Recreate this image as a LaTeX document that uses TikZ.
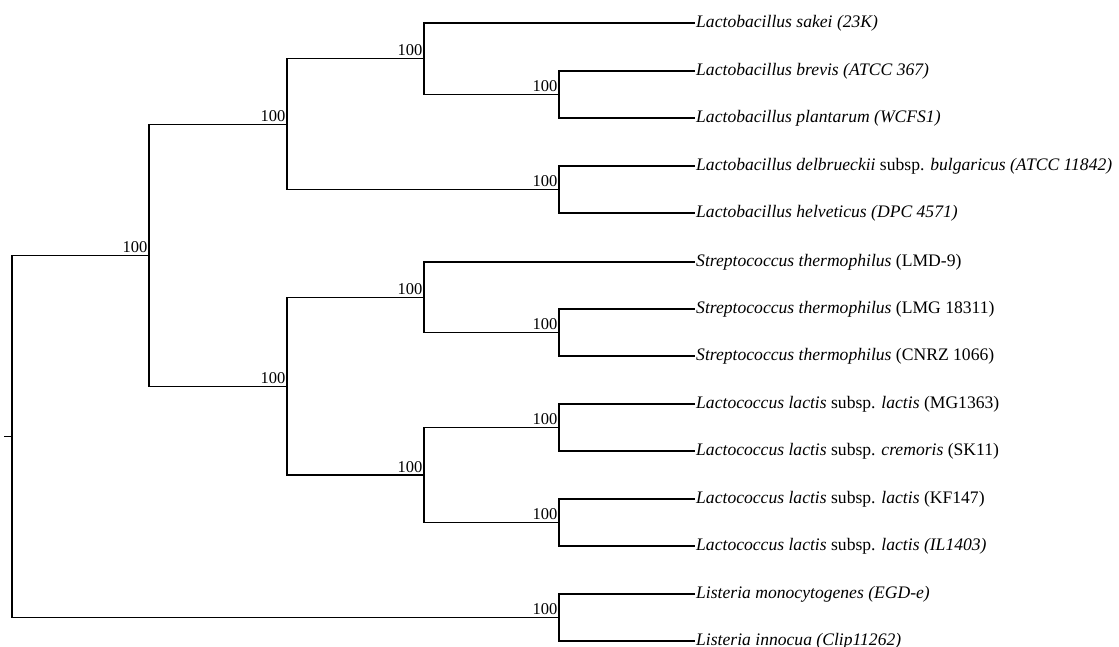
\documentclass[tikz,border=0pt]{standalone}
\usepackage{fontspec}
\setmainfont{Liberation Serif}
\begin{document}
\begin{tikzpicture}[x=1pt,y=-1pt,
  branch/.style={draw=black,line width=1.2pt},
  leaf/.style={anchor=west,inner sep=1pt,font=\fontsize{17.6}{19}\selectfont},
  boot/.style={anchor=south east,inner xsep=1.5pt,inner ysep=2.5pt,font=\fontsize{16.5}{18}\selectfont}]
\useasboundingbox (0,0) rectangle (1119,647);
% leaves
\node[leaf] (L1)  at (695,23)  {\textit{Lactobacillus sakei (23K)}};
\node[leaf] (L2)  at (695,71)  {\textit{Lactobacillus brevis (ATCC 367)}};
\node[leaf] (L3)  at (695,118) {\textit{Lactobacillus plantarum (WCFS1)}};
\node[leaf] (L4)  at (695,166) {\textit{Lactobacillus delbrueckii} subsp. \textit{bulgaricus (ATCC 11842)}};
\node[leaf] (L5)  at (695,213) {\textit{Lactobacillus helveticus (DPC 4571)}};
\node[leaf] (L6)  at (695,262) {\textit{Streptococcus thermophilus} (LMD-9)};
\node[leaf] (L7)  at (695,309) {\textit{Streptococcus thermophilus} (LMG 18311)};
\node[leaf] (L8)  at (695,356) {\textit{Streptococcus thermophilus} (CNRZ 1066)};
\node[leaf] (L9)  at (695,404) {\textit{Lactococcus lactis} subsp. \textit{lactis} (MG1363)};
\node[leaf] (L10) at (695,451) {\textit{Lactococcus lactis} subsp. \textit{cremoris} (SK11)};
\node[leaf] (L11) at (695,499) {\textit{Lactococcus lactis} subsp. \textit{lactis} (KF147)};
\node[leaf] (L12) at (695,546) {\textit{Lactococcus lactis} subsp. \textit{lactis (IL1403)}};
\node[leaf] (L13) at (695,594) {\textit{Listeria monocytogenes (EGD-e)}};
\node[leaf] (L14) at (695,641) {\textit{Listeria innocua (Clip11262)}};
% internal nodes
\coordinate (n23)   at (559,94.5);
\coordinate (n45)   at (559,189.5);
\coordinate (n123)  at (424,58.75);
\coordinate (nLb)   at (287,124.2);
\coordinate (n78)   at (559,332.5);
\coordinate (nSt)   at (424,297.2);
\coordinate (n910)  at (559,427.5);
\coordinate (n1112) at (559,522.5);
\coordinate (nLc)   at (424,475);
\coordinate (nSL)   at (287,386.1);
\coordinate (nLab)  at (149,255.2);
\coordinate (n1314) at (559,617.5);
\coordinate (root)  at (12,436.3);
\coordinate (stub)  at (4,436.3);
% branches
\draw[branch] (L2.west) -| (n23) |- (L3.west);
\draw[branch] (L4.west) -| (n45) |- (L5.west);
\draw[branch] (L1.west) -| (n123) |- (n23);
\draw[branch] (n123) -| (nLb) |- (n45);
\draw[branch] (L7.west) -| (n78) |- (L8.west);
\draw[branch] (L6.west) -| (nSt) |- (n78);
\draw[branch] (L9.west) -| (n910) |- (L10.west);
\draw[branch] (L11.west) -| (n1112) |- (L12.west);
\draw[branch] (n910) -| (nLc) |- (n1112);
\draw[branch] (nSt) -| (nSL) |- (nLc);
\draw[branch] (nLb) -| (nLab) |- (nSL);
\draw[branch] (L13.west) -| (n1314) |- (L14.west);
\draw[branch] (nLab) -| (root) |- (n1314);
\draw[branch] (stub) -- (root);
% bootstrap values
\foreach \n in {n23,n45,n123,nLb,n78,nSt,n910,n1112,nLc,nSL,nLab,n1314}
  \node[boot] (b\n) at (\n) {100};
\end{tikzpicture}
\end{document}
